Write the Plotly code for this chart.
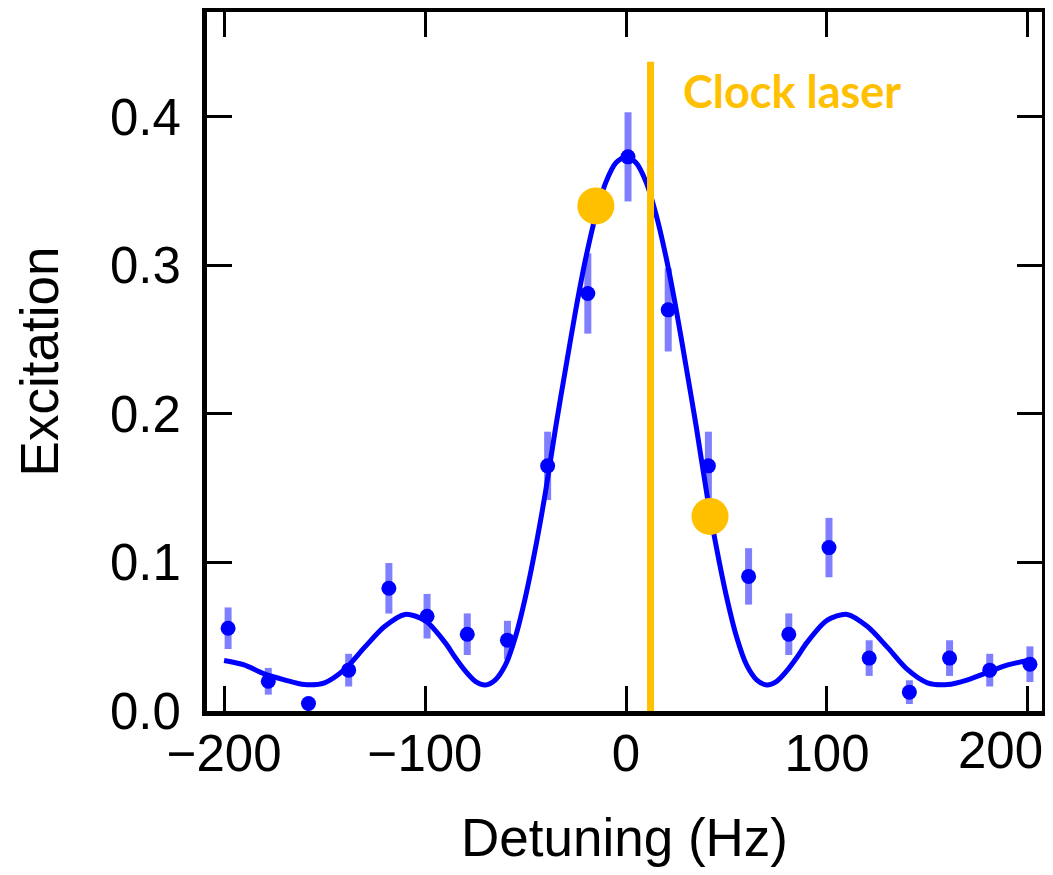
import plotly.graph_objects as go

# Measured data points
detuning = [-198, -178, -158, -138, -118, -99, -79, -59, -39, -19, 1,
            21, 41, 61, 81, 101, 121, 141, 161, 181, 201]
excitation = [0.0557, 0.020, 0.005, 0.0275, 0.0826, 0.0638, 0.0517, 0.0477, 0.165, 0.281, 0.373,
              0.270, 0.165, 0.0906, 0.0517, 0.110, 0.0356, 0.0127, 0.0356, 0.0275, 0.0315]
excitation_err = [0.014, 0.009, 0.003, 0.011, 0.017, 0.015, 0.014, 0.013, 0.023, 0.027, 0.030,
                  0.028, 0.023, 0.019, 0.014, 0.020, 0.012, 0.008, 0.012, 0.011, 0.012]

# Fit curve
fit_x = [-200, -190, -180, -170, -160, -150, -140, -130, -120, -110, -100, -90, -85, -80, -75,
         -70, -65, -60, -55, -50, -45, -40, -35, -30, -25, -20, -15, -10, -5, 0,
         5, 10, 15, 20, 25, 30, 35, 40, 45, 50, 55, 60, 65, 70,
         75, 80, 85, 90, 100, 110, 120, 130, 140, 150, 160, 170, 180, 190, 200]
fit_y = [0.034, 0.031, 0.025, 0.021, 0.0178, 0.019, 0.028, 0.043, 0.057, 0.065, 0.061, 0.046, 0.036, 0.027, 0.020,
         0.0175, 0.021, 0.031, 0.050, 0.077, 0.110, 0.148, 0.191, 0.231, 0.270, 0.305, 0.334, 0.356, 0.369, 0.373,
         0.369, 0.356, 0.334, 0.305, 0.270, 0.231, 0.191, 0.148, 0.110, 0.077, 0.050, 0.031, 0.021, 0.0175,
         0.020, 0.027, 0.036, 0.046, 0.061, 0.065, 0.057, 0.043, 0.028, 0.019, 0.0178, 0.021, 0.026, 0.031, 0.034]

# Axis ticks
x_ticks = [-200, -100, 0, 100, 200]
x_ticklabels = ["\u2212200", "\u2212100", "0", "100", "200"]
y_ticks = [0.0, 0.1, 0.2, 0.3, 0.4]

# Clock laser annotations
laser_x = [12.2, 12.2]
laser_y = [0.0, 0.437]
probe_x = [-15.0, 41.8]
probe_y = [0.340, 0.131]
laser_label = "Clock laser"

BLUE = "#0000FF"
GOLD = "#FFC000"
FONT = "Liberation Sans, Arial, sans-serif"
X_RANGE = [-208.5, 207]
Y_RANGE = [0.0, 0.4705]

fig = go.Figure()

fig.add_trace(go.Scatter(
    x=detuning, y=excitation, mode="markers",
    marker=dict(color=BLUE, size=15, line=dict(width=0)),
    error_y=dict(type="data", array=excitation_err, color="rgba(0,0,255,0.5)",
                 thickness=7, width=0),
    showlegend=False,
))

fig.add_trace(go.Scatter(
    x=fit_x, y=fit_y, mode="lines",
    line=dict(color=BLUE, width=5, shape="spline", smoothing=0.8),
    showlegend=False,
))

fig.add_trace(go.Scatter(
    x=laser_x, y=laser_y, mode="lines",
    line=dict(color=GOLD, width=7),
    showlegend=False, cliponaxis=False,
))

fig.add_trace(go.Scatter(
    x=probe_x, y=probe_y, mode="markers",
    marker=dict(color=GOLD, size=37, line=dict(width=0)),
    showlegend=False,
))

fig.add_annotation(
    x=27.5, y=0.417, xref="x", yref="y", text="<b>" + laser_label + "</b>",
    showarrow=False, xanchor="left", yanchor="middle",
    font=dict(family="Lato", size=45, color=GOLD),
)

# last x tick label sits flush with the right edge (it would otherwise be clipped)
fig.add_annotation(
    x=X_RANGE[1], y=0, xref="x", yref="paper", text=x_ticklabels[-1],
    showarrow=False, xanchor="right", yanchor="top", yshift=-9, xshift=3,
    font=dict(family=FONT, size=51, color="black"),
)

axis_common = dict(
    showline=True, linewidth=5, linecolor="black", mirror="allticks",
    ticks="inside", ticklen=25, tickwidth=2.5, tickcolor="black",
    showgrid=False, zeroline=False, automargin=False,
    ticklabeloverflow="allow",
    tickfont=dict(family=FONT, size=51, color="black"),
)

fig.update_xaxes(
    range=X_RANGE, tickvals=x_ticks, ticktext=x_ticklabels[:-1] + [""],
    ticklabelstandoff=-6,
    title=dict(text="Detuning (Hz)", font=dict(family=FONT, size=53, color="black"), standoff=46),
    **axis_common,
)
fig.update_yaxes(
    range=Y_RANGE, tickvals=y_ticks, tickformat=".1f",
    ticklabelstandoff=11,
    title=dict(text="Excitation", font=dict(family=FONT, size=53, color="black"), standoff=36),
    **axis_common,
)

# page body has an 8px default margin; size the figure so the page fits the window exactly
fig.update_layout(
    width=1037, height=859,
    margin=dict(l=199, r=3, t=4, b=156, pad=0),
    plot_bgcolor="white", paper_bgcolor="white",
)

fig.write_html("out.html")
